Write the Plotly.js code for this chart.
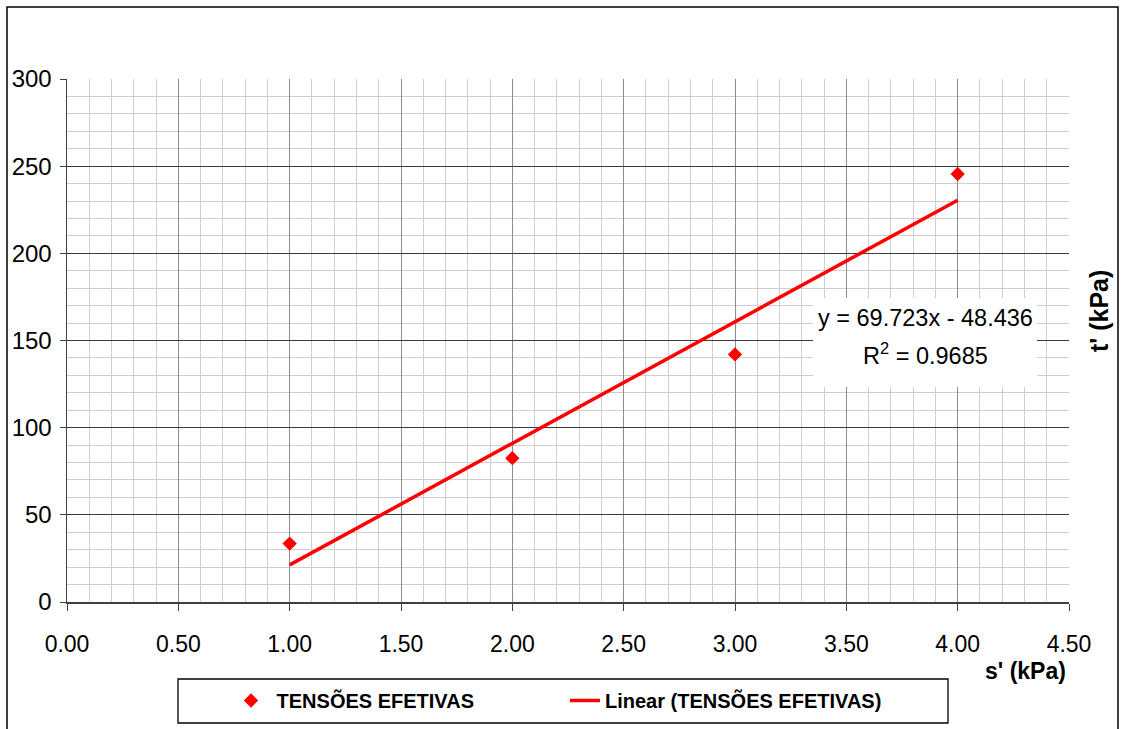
<!DOCTYPE html>
<html><head><meta charset="utf-8">
<script src="https://cdn.plot.ly/plotly-3.0.1.min.js"></script>
<style>html,body{margin:0;padding:0;background:#fff}#chart{width:1122px;height:729px}</style>
</head><body><div id="chart"></div>
<script>
// Data
const sValues = [1, 2, 3, 4];                 // s' (kPa)
const tValues = [33.5, 82.5, 142, 245.5];     // t' (kPa)
const seriesName = 'TENSÕES EFETIVAS';
const trendName = 'Linear (TENSÕES EFETIVAS)';
const fitSlope = 69.723;
const fitIntercept = -48.436;
const fitR2 = 0.9685;
const xTickVals = [0, 0.5, 1, 1.5, 2, 2.5, 3, 3.5, 4, 4.5];
const xTickText = ['0.00','0.50','1.00','1.50','2.00','2.50','3.00','3.50','4.00','4.50'];
const yTickVals = [0, 50, 100, 150, 200, 250, 300];

const FONT = '"Liberation Sans", Arial, sans-serif';
const trendY = sValues.map(x => fitSlope * x + fitIntercept);

const L = 67, R = 53, T = 79, B = 127, W = 1122, H = 729;
const pw = W - L - R, ph = H - T - B;
const px = v => (v - L) / pw;
const py = v => (H - B - v) / ph;

const traces = [
  {x: sValues, y: tValues, type: 'scatter', mode: 'markers', name: '\u00a0' + seriesName,
   marker: {symbol: 'diamond', size: 11, color: '#ff0000'}},
  {x: [sValues[0], sValues[sValues.length-1]], y: [trendY[0], trendY[trendY.length-1]],
   type: 'scatter', mode: 'lines', name: trendName,
   line: {color: '#ff0000', width: 3.5}}
];

const layout = {
  width: W, height: H,
  margin: {l: L, r: R, t: T, b: B, autoexpand: false},
  paper_bgcolor: '#ffffff', plot_bgcolor: '#ffffff',
  font: {family: FONT, size: 23, color: '#000'},
  showlegend: true,
  xaxis: {
    range: [0, 4.5], tickvals: xTickVals, ticktext: xTickText,
    showgrid: true, gridcolor: '#8c8c8c', gridwidth: 1,
    minor: {dtick: 0.1, tick0: 0, showgrid: true, gridcolor: '#cfcfcf', gridwidth: 1, ticks: ''},
    showline: true, linecolor: '#404040', linewidth: 1.5,
    ticks: 'outside', ticklen: 7, tickcolor: '#404040', tickwidth: 1,
    zeroline: false, fixedrange: true, ticklabelstandoff: 14, automargin: false,
    tickfont: {family: FONT, size: 23, color: '#000'}
  },
  yaxis: {
    range: [0, 300], tickvals: yTickVals,
    showgrid: true, gridcolor: '#3c3c3c', gridwidth: 1,
    minor: {dtick: 10, tick0: 0, showgrid: true, gridcolor: '#cfcfcf', gridwidth: 1, ticks: ''},
    showline: true, linecolor: '#404040', linewidth: 1.5,
    ticks: 'outside', ticklen: 6, tickcolor: '#404040', tickwidth: 1,
    zeroline: false, fixedrange: true, ticklabelstandoff: 3, automargin: false,
    tickfont: {family: FONT, size: 24, color: '#000'}
  },
  legend: {
    orientation: 'h', x: px(231), xanchor: 'left', y: py(681), yanchor: 'top',
    borderwidth: 0, bgcolor: 'rgba(0,0,0,0)',
    font: {family: FONT, size: 20, color: '#000', weight: 'bold'},
    entrywidth: 289, entrywidthmode: 'pixels'
  },
  annotations: [
    {xref: 'paper', yref: 'paper', x: px(1025), y: py(671), xanchor: 'center', yanchor: 'middle',
     text: "<b>s' (kPa)</b>", showarrow: false, font: {family: FONT, size: 23, color: '#000'}},
    {xref: 'paper', yref: 'paper', x: px(1099), y: py(311), xanchor: 'center', yanchor: 'middle',
     text: "<b>t' (kPa)</b>", textangle: -90, showarrow: false, font: {family: FONT, size: 25, color: '#000'}},
    {xref: 'paper', yref: 'paper', x: px(925), y: py(318), xanchor: 'center', yanchor: 'middle',
     text: 'y = ' + fitSlope.toFixed(3) + 'x - ' + Math.abs(fitIntercept).toFixed(3),
     showarrow: false, font: {family: FONT, size: 23.5, color: '#000'}},
    {xref: 'paper', yref: 'paper', x: px(925), y: py(354), xanchor: 'center', yanchor: 'middle',
     text: 'R<sup>2</sup> = ' + fitR2.toFixed(4),
     showarrow: false, font: {family: FONT, size: 23.5, color: '#000'}}
  ],
  shapes: [
    {type: 'rect', xref: 'paper', yref: 'paper', x0: px(7), x1: px(1118), y0: py(745), y1: py(7),
     line: {color: '#000', width: 1.5}, fillcolor: 'rgba(0,0,0,0)', layer: 'below'},
    {type: 'rect', xref: 'paper', yref: 'paper', x0: px(813), x1: px(1037), y0: py(387), y1: py(298),
     line: {width: 0}, fillcolor: '#ffffff', layer: 'above'},
    {type: 'rect', xref: 'paper', yref: 'paper', x0: px(178), x1: px(948), y0: py(723), y1: py(679),
     line: {color: '#000', width: 1.3}, fillcolor: 'rgba(0,0,0,0)', layer: 'above'}
  ]
};

Plotly.newPlot('chart', traces, layout, {displayModeBar: false, staticPlot: true});
</script></body></html>
